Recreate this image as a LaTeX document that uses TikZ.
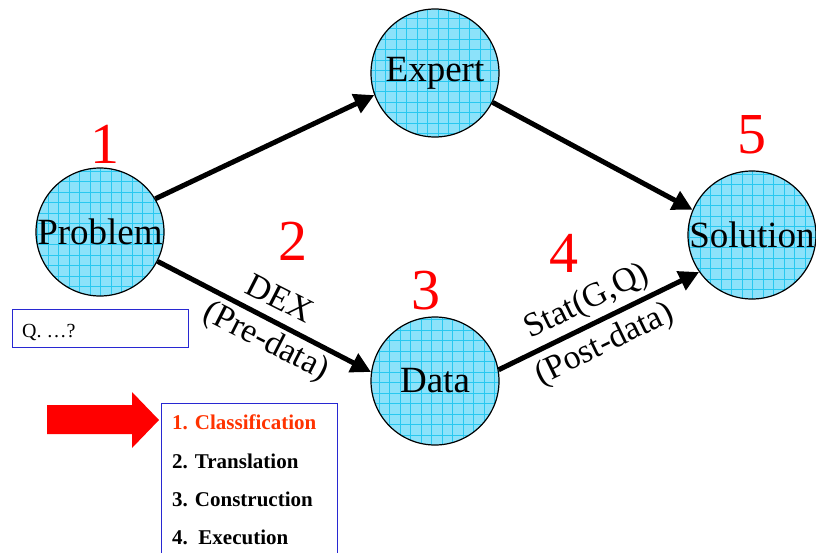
\documentclass[tikz,border=0pt]{standalone}
\usepackage{fontspec}
\setmainfont{Liberation Serif}
\usetikzlibrary{arrows.meta}
\definecolor{bubblefill}{RGB}{140,226,250}
\definecolor{bubblegrid}{RGB}{40,200,240}
\definecolor{boxblue}{RGB}{40,40,210}
\definecolor{hilite}{RGB}{255,51,0}
\tikzset{
  bubble/.style={circle, draw=black, line width=1.2pt, fill=bubblefill,
    minimum size=128pt, inner sep=0pt, font=\fontsize{37}{40}\selectfont,
    path picture={\draw[bubblegrid, line width=0.5pt]
      ([shift={(-3pt,-3pt)}]path picture bounding box.south west) grid[step=10.5pt]
      (path picture bounding box.north east);}},
  flow/.style={line width=5pt, -{Triangle[length=20pt,width=20pt]}},
  stepnum/.style={text=red, font=\fontsize{58}{60}\selectfont, inner sep=0pt},
  edgelabel/.style={font=\fontsize{34}{36}\selectfont, inner sep=0pt},
  framebox/.style={draw=boxblue, line width=1.2pt, inner sep=0pt},
  listitem/.style={font=\fontsize{21}{23}\selectfont\bfseries, anchor=base west, inner sep=0pt}
}
\begin{document}
\begin{tikzpicture}[x=1pt, y=1pt]
  \useasboundingbox (0,0) rectangle (816,-552);
  \fill[white] (0,0) rectangle (816,-552);

  % the four stages
  \node[bubble] (problem)  at (100,-232) {Problem};
  \node[bubble] (expert)   at (435,-73)  {Expert};
  \node[bubble] (data)     at (435,-381) {Data};
  \node[bubble] (solution) at (752,-235) {Solution};

  % connectors
  \draw[flow] (problem.31)  -- (expert.200);
  \draw[flow] (problem.-27) -- (data.172);
  \draw[flow] (expert.-27)  -- (solution.157);
  \draw[flow] (data.10)     -- (solution.215);

  % connector labels
  \node[edgelabel, rotate=-27] (dex)      at (280,-298) {DEX};
  \node[edgelabel, rotate=-27] (predata)  at (266,-342) {(Pre-data)};
  \node[edgelabel, rotate=26]  (stat)     at (587,-302) {Stat(G,Q)};
  \node[edgelabel, rotate=26]  (postdata) at (605,-345) {(Post-data)};

  % step numbers
  \node[stepnum] (n1) at (105,-144) {1};
  \node[stepnum] (n2) at (293,-241) {2};
  \node[stepnum] (n3) at (426,-291) {3};
  \node[stepnum] (n4) at (564,-253) {4};
  \node[stepnum] (n5) at (752,-135) {5};

  % question box
  \node[framebox, anchor=north west, minimum width=176pt, minimum height=38pt] (qbox) at (12,-309) {};
  \node[anchor=base west, inner sep=0pt, font=\fontsize{20}{22}\selectfont] (qtext) at (22,-337) {Q. …?};

  % task list
  \node[framebox, anchor=north west, minimum width=176pt, minimum height=170pt] (listbox) at (161,-403) {};
  \node[listitem, text=hilite] (item1) at (172,-429) {1. Classification};
  \node[listitem] (item2) at (172,-468) {2. Translation};
  \node[listitem] (item3) at (172,-506) {3. Construction};
  \node[listitem] (item4) at (172,-544) {4.\ \ Execution};

  % pointer to the current item
  \fill[red] (47,-405) -- (132,-405) -- (132,-392) -- (159,-420)
    -- (132,-448) -- (132,-434) -- (47,-434) -- cycle;
\end{tikzpicture}
\end{document}
